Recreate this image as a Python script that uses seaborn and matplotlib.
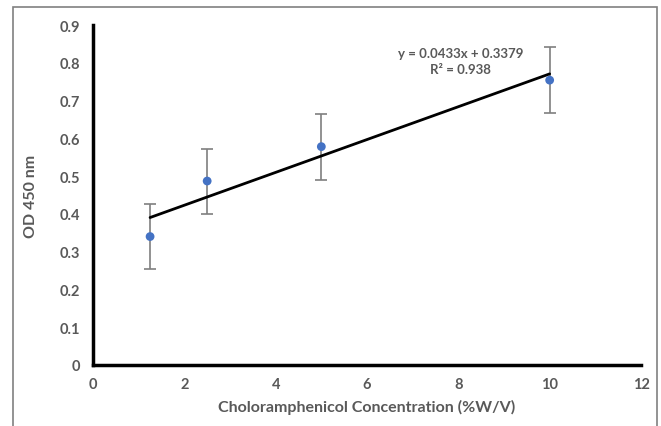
import matplotlib
matplotlib.use("Agg")
import matplotlib.pyplot as plt
import seaborn as sns
import pandas as pd
from matplotlib.patches import Rectangle

concentration = [1.25, 2.5, 5.0, 10.0]
od450 = [0.34, 0.487, 0.578, 0.754]
od_err = [0.087, 0.086, 0.087, 0.088]
x_ticks = [0, 2, 4, 6, 8, 10, 12]
y_ticks = [0, 0.1, 0.2, 0.3, 0.4, 0.5, 0.6, 0.7, 0.8, 0.9]
y_tick_labels = ["0", "0.1", "0.2", "0.3", "0.4", "0.5", "0.6", "0.7", "0.8", "0.9"]
equation_text = "y = 0.0433x + 0.3379"
r2_text = "R² = 0.938"

df = pd.DataFrame({"conc": concentration, "od": od450, "err": od_err})

sns.set_theme(style="white")
plt.rcParams['font.family'] = ['Lato', 'DejaVu Sans']
gray = "#595959"

fig = plt.figure(figsize=(6.61, 4.27), dpi=100)
ax = fig.add_axes([93/661, 1-366/427, (641-93)/661, (366-26)/427])

# outer frame
fig.patches.append(Rectangle((13/661, -0.05), (657-13)/661, 1-8/427+0.05,
                             transform=fig.transFigure, fill=False,
                             edgecolor="#808080", linewidth=1.2))

ax.errorbar(df["conc"], df["od"], yerr=df["err"], fmt="none",
            ecolor="#7f7f7f", elinewidth=1.2, capsize=4, capthick=1.2, zorder=2)
sns.regplot(data=df, x="conc", y="od", ax=ax, ci=None, scatter=False,
            truncate=True, line_kws=dict(color="black", linewidth=2.0, zorder=3))
sns.scatterplot(data=df, x="conc", y="od", ax=ax, color="#4472C4", s=40,
                edgecolor="none", zorder=4)

ax.set_xlim(0, 12)
ax.set_ylim(0, 0.9)
ax.set_xticks(x_ticks)
ax.set_yticks(y_ticks)
ax.set_yticklabels(y_tick_labels)
ax.tick_params(axis="both", length=0, labelsize=10.5, labelcolor=gray, pad=9)
for lab in ax.get_xticklabels() + ax.get_yticklabels():
    lab.set_fontweight("bold")

for s in ["top", "right"]:
    ax.spines[s].set_visible(False)
for s in ["left", "bottom"]:
    ax.spines[s].set_color("black")
    ax.spines[s].set_linewidth(2.5)

ax.set_xlabel("Choloramphenicol Concentration (%W/V)", fontsize=11.5,
              fontweight="bold", color=gray, labelpad=5)
ax.set_ylabel("OD 450 nm", fontsize=11.5, fontweight="bold", color=gray, labelpad=16)

ax.text(8.05, 0.825, equation_text, ha="center", va="center", fontsize=9.5,
        fontweight="bold", color=gray)
ax.text(8.05, 0.783, r2_text, ha="center", va="center", fontsize=9.5,
        fontweight="bold", color=gray)

fig.savefig("out.png", dpi=100)
